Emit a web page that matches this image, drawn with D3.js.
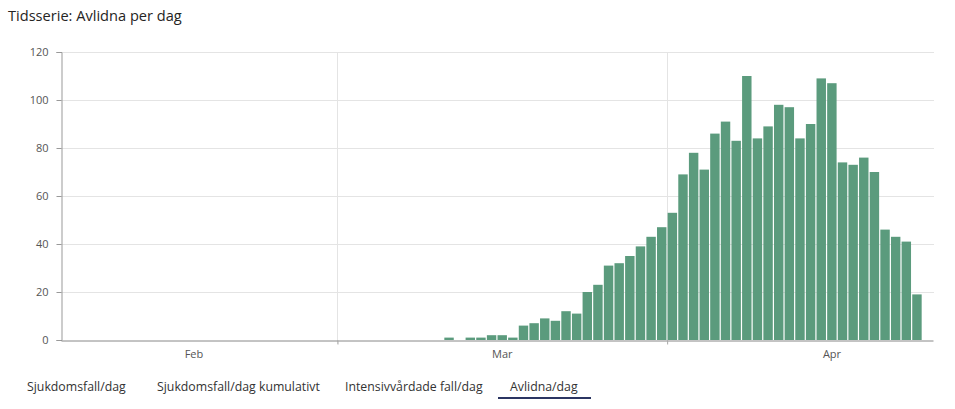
<!DOCTYPE html>
<html>
<head>
<meta charset="utf-8">
<script src="https://cdn.jsdelivr.net/npm/d3@7"></script>
<style>
  html, body { margin: 0; padding: 0; background: #fff; }
  svg { display: block; font-family: "Open Sans", "Noto Sans", sans-serif; }
</style>
</head>
<body>
<svg id="chart" width="955" height="409"></svg>
<script>
// ---- data ----
const title = "Tidsserie: Avlidna per dag";
const firstDate = "2020-03-11";
const deaths = [1, 0, 1, 1, 2, 2, 1, 6, 7, 9, 8, 12, 11, 20, 23, 31, 32, 35, 39, 43, 47,
  53, 69, 78, 71, 86, 91, 83, 110, 84, 89, 98, 97, 84, 90, 109, 107, 74, 73, 76, 70, 46, 43, 41, 19];
const domainStart = "2020-02-04";
const domainEnd = "2020-04-26";
const yTicks = [0, 20, 40, 60, 80, 100, 120];
const monthStarts = ["2020-03-01", "2020-04-01"];
const monthLabels = [["2020-02-16T12:00", "Feb"], ["2020-03-16T12:00", "Mar"], ["2020-04-16T12:00", "Apr"]];
const tabs = ["Sjukdomsfall/dag", "Sjukdomsfall/dag kumulativt", "Intensivvårdade fall/dag", "Avlidna/dag"];
const activeTab = 3;

// ---- build ----
const parse = d3.isoParse;
const day0 = parse(firstDate);
const data = deaths.map((v, i) => ({ date: d3.timeDay.offset(day0, i), value: v }));

const svg = d3.select("#chart");
const margin = { left: 61, right: 22, top: 52, bottom: 69 };
const W = 955, H = 409;
const x = d3.scaleTime().domain([parse(domainStart), parse(domainEnd)]).range([margin.left, W - margin.right]);
const y = d3.scaleLinear().domain([0, 120]).range([H - margin.bottom, margin.top]);

svg.append("text").attr("x", 8).attr("y", 21).attr("font-size", 14.6).attr("fill", "#252423")
  .attr("font-family", "'Segoe UI', 'Open Sans', sans-serif").text(title);

// horizontal gridlines
svg.append("g").selectAll("line").data(yTicks.filter(t => t > 0)).join("line")
  .attr("x1", margin.left).attr("x2", W - margin.right + 1)
  .attr("y1", d => Math.round(y(d)) + 0.5).attr("y2", d => Math.round(y(d)) + 0.5)
  .attr("stroke", "#e4e4e4").attr("stroke-width", 1);

// vertical gridlines at month starts
svg.append("g").selectAll("line").data(monthStarts.map(parse)).join("line")
  .attr("x1", d => Math.round(x(d)) + 0.5).attr("x2", d => Math.round(x(d)) + 0.5)
  .attr("y1", margin.top).attr("y2", y(0) + 4)
  .attr("stroke", "#e4e4e4").attr("stroke-width", 1);

// bars
const dayW = x(d3.timeDay.offset(day0, 1)) - x(day0);
svg.append("g").selectAll("rect").data(data).join("rect")
  .attr("x", d => x(d.date) + 0.5)
  .attr("width", dayW - 1.2)
  .attr("y", d => y(d.value))
  .attr("height", d => y(0) - y(d.value))
  .attr("fill", "#5b9b7d");

// y axis
const yAxis = d3.axisLeft(y).tickValues(yTicks).tickSizeOuter(0).tickSize(5).tickPadding(8);
const gy = svg.append("g").attr("transform", `translate(${margin.left + 0.5},0)`).call(yAxis);
gy.select(".domain").attr("stroke", "#999");
gy.selectAll(".tick line").attr("stroke", "#999");
gy.selectAll(".tick text").attr("fill", "#555").attr("font-size", 11)
  .attr("font-family", "'Segoe UI', 'Open Sans', sans-serif");

// x axis baseline + month ticks
const xAxis = d3.axisBottom(x).tickValues(monthStarts.map(parse)).tickSize(4).tickSizeOuter(0).tickFormat("");
const gx = svg.append("g").attr("transform", `translate(0,${Math.round(y(0)) + 0.5})`).call(xAxis);
gx.select(".domain").attr("stroke", "#888");
gx.selectAll(".tick line").attr("stroke", "#aaa");

// month labels
svg.append("g").selectAll("text").data(monthLabels).join("text")
  .attr("x", d => x(parse(d[0]))).attr("y", y(0) + 18)
  .attr("text-anchor", "middle").attr("font-size", 11).attr("fill", "#555")
  .attr("font-family", "'Segoe UI', 'Open Sans', sans-serif")
  .text(d => d[1]);

// tabs
const tabX = [27, 157, 345, 510];
const tg = svg.append("g");
tabs.forEach((t, i) => {
  tg.append("text").attr("x", tabX[i]).attr("y", 391).attr("font-size", 12.3).attr("fill", "#333")
    .attr("font-family", "'Segoe UI', 'Open Sans', sans-serif").text(t);
});
tg.append("rect").attr("x", 498).attr("y", 397).attr("width", 93).attr("height", 2).attr("fill", "#2b3562");
</script>
</body>
</html>
